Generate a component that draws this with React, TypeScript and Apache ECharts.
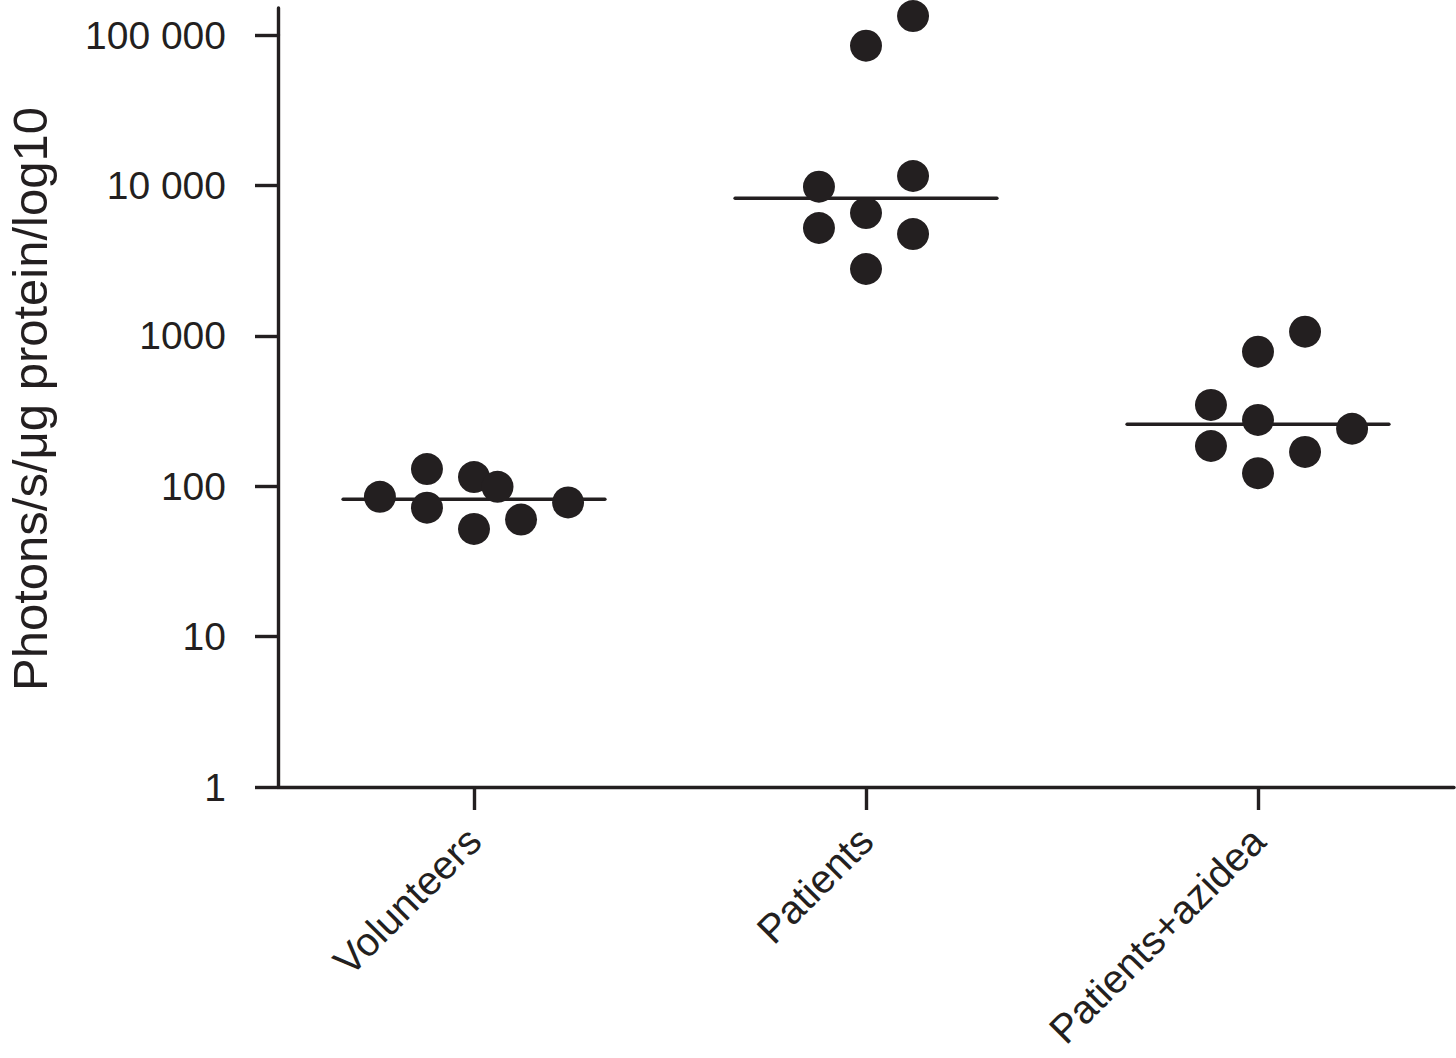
import React, { useEffect, useRef } from "react";
import * as echarts from "echarts";

const categories = ["Volunteers", "Patients", "Patients+azidea"];
const yTickValues = [1, 10, 100, 1000, 10000, 100000];
const yTickLabels = ["1", "10", "100", "1000", "10 000", "100 000"];

const volunteersValues = [85, 130, 72, 115, 99, 52, 60, 78];
const volunteersSlots = [-2, -1, -1, 0, 0.5, 0, 1, 2];
const patientsValues = [84900, 133700, 9800, 11550, 6550, 5210, 4750, 2780];
const patientsSlots = [0, 1, -1, 1, 0, -1, 1, 0];
const azideaValues = [1065, 784, 347, 276, 241, 185, 169, 122];
const azideaSlots = [1, 0, -1, 0, 2, -1, 1, 0];
const medians = [81.8, 8210, 258];

const INK = "#231f20";
const FONT = "'Liberation Sans', Arial, Helvetica, sans-serif";
const SLOT = 0.12;
const MEDIAN_HALF = 0.334;

export default function App() {
  const ref = useRef<HTMLDivElement>(null);

  useEffect(() => {
    if (!ref.current) return;
    const chart = echarts.init(ref.current, undefined, { renderer: "svg" });

    const groups = [
      { values: volunteersValues, slots: volunteersSlots },
      { values: patientsValues, slots: patientsSlots },
      { values: azideaValues, slots: azideaSlots },
    ];
    const scatterData: number[][] = [];
    groups.forEach((g, gi) => {
      g.values.forEach((v, i) => {
        scatterData.push([gi + 0.5 + g.slots[i] * SLOT, v]);
      });
    });

    const medianSeries = medians.map((m, gi) => ({
      type: "line",
      xAxisIndex: 1,
      yAxisIndex: 0,
      data: [
        [gi + 0.5 - MEDIAN_HALF, m],
        [gi + 0.5 + MEDIAN_HALF, m],
      ],
      symbol: "none",
      clip: false,
      silent: true,
      z: 2,
      lineStyle: { color: INK, width: 3.4, cap: "round" },
    }));

    const axisLineStyle = { color: INK, width: 3.4 };

    chart.setOption({
      animation: false,
      backgroundColor: "#ffffff",
      textStyle: { fontFamily: FONT, color: INK },
      grid: [
        {
          left: 278,
          right: 2,
          top: 35,
          bottom: 271,
          containLabel: false,
          outerBoundsMode: "none",
        },
        {
          left: 278,
          right: 2,
          top: 8,
          height: 27,
          containLabel: false,
          outerBoundsMode: "none",
        },
      ],
      xAxis: [
        {
          type: "category",
          gridIndex: 0,
          data: categories,
          boundaryGap: true,
          axisLine: { show: true, lineStyle: axisLineStyle },
          axisTick: {
            show: true,
            alignWithLabel: true,
            length: 23,
            lineStyle: axisLineStyle,
          },
          axisLabel: {
            interval: 0,
            rotate: 45,
            fontSize: 40,
            fontFamily: FONT,
            color: INK,
            margin: 47,
          },
          splitLine: { show: false },
        },
        { type: "value", gridIndex: 0, min: 0, max: 3, show: false },
        { type: "value", gridIndex: 1, min: 0, max: 1, show: false },
      ],
      yAxis: [
        {
          type: "log",
          logBase: 10,
          gridIndex: 0,
          min: 1,
          max: 100000,
          splitNumber: 5,
          axisLine: { show: true, lineStyle: axisLineStyle },
          axisTick: { show: true, length: 23, lineStyle: axisLineStyle },
          axisLabel: {
            fontSize: 39,
            fontFamily: FONT,
            color: INK,
            margin: 52,
            padding: [12, 0, 0, 0],
            formatter: (v: number) => {
              const idx = yTickValues.indexOf(Math.round(v));
              return idx >= 0 ? yTickLabels[idx] : "";
            },
          },
          splitLine: { show: false },
          name: "Photons/s/\u03bcg protein/log10",
          nameLocation: "middle",
          nameGap: 224,
          nameTextStyle: {
            fontSize: 49,
            fontFamily: FONT,
            color: INK,
            padding: [0, 0, 0, 24],
          },
        },
        {
          type: "value",
          gridIndex: 1,
          min: 0,
          max: 1,
          axisLine: { show: true, lineStyle: axisLineStyle },
          axisTick: { show: false },
          axisLabel: { show: false },
          splitLine: { show: false },
        },
      ],
      series: [
        ...medianSeries,
        {
          type: "scatter",
          xAxisIndex: 1,
          yAxisIndex: 0,
          data: scatterData,
          symbol: "circle",
          symbolSize: 32,
          clip: false,
          z: 3,
          itemStyle: { color: INK, opacity: 1 },
        },
      ],
    });

    return () => {
      chart.dispose();
    };
  }, []);

  return (
    <div
      ref={ref}
      style={{
        position: "fixed",
        left: 0,
        top: 0,
        width: 1456,
        height: 1058,
        background: "#ffffff",
      }}
    />
  );
}
